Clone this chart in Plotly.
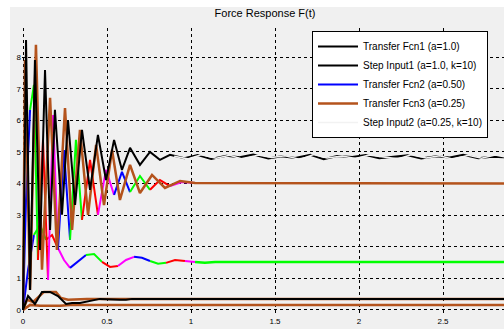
import plotly.graph_objects as go

# ---------------- data ----------------
x_ticks = [0, 0.5, 1, 1.5, 2, 2.5]
x_tick_labels = ["0", "0.5", "1", "1.5", "2", "2.5"]
y_ticks = [0, 1, 2, 3, 4, 5, 6, 7, 8]
y_tick_labels = ["0", "1", "2", "3", "4", "5", "6", "7", "8"]

legend_names = [
    "Transfer Fcn1 (a=1.0)",
    "Step Input1 (a=1.0, k=10)",
    "Transfer Fcn2 (a=0.50)",
    "Transfer Fcn3 (a=0.25)",
    "Step Input2 (a=0.25, k=10)",
]

# black series, settles near 4.84 with jitter
t_black = [0, 0.018, 0.042, 0.071, 0.101, 0.131, 0.161, 0.190, 0.232, 0.268, 0.310,
           0.351, 0.399, 0.446, 0.494, 0.542, 0.589, 0.637, 0.696, 0.756, 0.815, 0.875,
           0.96, 1.04, 1.12, 1.21, 1.29, 1.37, 1.46, 1.54, 1.62, 1.71, 1.79, 1.87, 1.96,
           2.04, 2.12, 2.21, 2.29, 2.37, 2.46, 2.54, 2.62, 2.71, 2.79, 2.87]
f_black = [0, 8.54, 0.63, 7.91, 1.90, 7.59, 2.53, 6.33, 3.01, 6.01, 3.32,
           5.70, 3.80, 5.54, 4.11, 5.38, 4.43, 5.13, 4.59, 5.00, 4.75, 4.91,
           4.80, 4.90, 4.78, 4.88, 4.83, 4.92, 4.79, 4.86, 4.81, 4.91, 4.77, 4.87, 4.84,
           4.90, 4.80, 4.85, 4.89, 4.79, 4.86, 4.82, 4.91, 4.80, 4.85, 4.83]

# black low series
t_low = [0, 0.030, 0.071, 0.113, 0.161, 0.208, 0.256, 0.292, 0.339, 0.387, 0.458,
         0.577, 0.613, 0.649, 2.863]
f_low = [0, 0.44, 0.19, 0.57, 0.57, 0.44, 0.19, 0.22, 0.22, 0.28, 0.35,
         0.32, 0.32, 0.35, 0.35]

# multicolour series settling at 4.0
t_wave4 = [0, 0.018, 0.042, 0.065, 0.089, 0.119, 0.149, 0.179, 0.208, 0.244, 0.280,
           0.315, 0.351, 0.399, 0.446, 0.494, 0.542, 0.589, 0.637, 0.696, 0.756,
           0.815, 0.875, 0.946, 1.024]
f_wave4 = [0, 3.48, 6.33, 7.12, 1.58, 5.38, 0.95, 6.17, 1.90, 5.06, 2.22,
           5.38, 2.85, 4.75, 3.01, 4.43, 3.64, 4.37, 3.73, 4.24, 3.80,
           4.11, 3.92, 4.05, 4.02]

# multicolour series settling at 1.52 (green at the end)
t_wave1 = [0, 0.030, 0.065, 0.101, 0.137, 0.173, 0.208, 0.244, 0.280, 0.327, 0.375,
           0.423, 0.470, 0.518, 0.565, 0.613, 0.661, 0.708, 0.756, 0.804, 0.851,
           0.905, 0.964, 1.024, 1.083, 1.143, 2.863]
f_wave1 = [0, 1.27, 2.37, 2.69, 2.22, 2.37, 1.96, 1.58, 1.33, 1.52, 1.74,
           1.77, 1.52, 1.36, 1.39, 1.58, 1.68, 1.65, 1.55, 1.46, 1.49,
           1.58, 1.55, 1.52, 1.49, 1.52, 1.52]
wave1_steady_from = 1.024

# brown series settling at 4.0
t_brown = [0, 0.012, 0.042, 0.077, 0.113, 0.161, 0.202, 0.250, 0.292, 0.339, 0.387,
           0.435, 0.482, 0.530, 0.577, 0.637, 0.696, 0.768, 0.845, 0.935, 1.024, 2.863]
f_brown = [0, 7.91, 0.63, 8.39, 1.27, 6.71, 1.90, 6.39, 2.53, 5.70, 3.01,
           5.22, 3.32, 5.06, 3.48, 4.59, 3.70, 4.27, 3.86, 4.08, 4.02, 4.0]

# brown low pair
t_brown_hi = [0, 0.024, 0.060, 0.101, 0.125, 0.196, 0.226, 0.268, 0.381, 2.863]
f_brown_hi = [0, 0.32, 0.25, 0.44, 0.57, 0.57, 0.38, 0.32, 0.35, 0.35]
t_brown_lo = [0, 0.042, 0.101, 0.220, 0.280, 0.369, 2.863]
f_brown_lo = [0, 0.16, 0.13, 0.13, 0.16, 0.16, 0.16]

# light series (runs over the black one)
t_light = [0.90, 0.98, 1.06, 1.15, 1.23, 1.31, 1.40, 1.48, 1.56, 1.65, 1.73, 1.81,
           1.90, 1.98, 2.06, 2.15, 2.23, 2.31, 2.40, 2.48, 2.56, 2.65, 2.73, 2.81, 2.87]
f_light = [4.86, 4.78, 4.91, 4.80, 4.89, 4.77, 4.90, 4.82, 4.88, 4.76, 4.92, 4.81,
           4.87, 4.79, 4.90, 4.83, 4.78, 4.91, 4.81, 4.88, 4.77, 4.89, 4.80, 4.90, 4.84]

# ---------------- styles ----------------
BLACK = "#000000"
BROWN = "#b4531c"
SEG_COLORS = ["#0000ff", "#00ff00", "#ff0000", "#ff00ff"]
LIGHT = "#f2f2f2"
FONT = "Liberation Sans"

fig = go.Figure()


def add_segmented(t, f, group, showlegend, name, rank, width=2):
    first = True
    k = 0
    i = 0
    while i < len(t) - 1:
        j = min(i + 2, len(t) - 1)
        fig.add_trace(go.Scatter(
            x=t[i:j + 1], y=f[i:j + 1], mode="lines",
            line=dict(color=SEG_COLORS[k % len(SEG_COLORS)], width=width),
            legendgroup=group, name=name, legendrank=rank,
            showlegend=(showlegend and first), hoverinfo="skip"))
        first = False
        k += 1
        i = j


# multicoloured (legend 3)
split = t_wave1.index(wave1_steady_from)
add_segmented(t_wave1[:split + 1], f_wave1[:split + 1], "g3", True, legend_names[2], 3)
fig.add_trace(go.Scatter(x=t_wave1[split:], y=f_wave1[split:], mode="lines",
                         line=dict(color="#00ff00", width=2.5), legendgroup="g3",
                         showlegend=False, hoverinfo="skip"))
add_segmented(t_wave4, f_wave4, "g3", False, legend_names[2], 3)

# brown (legend 4)
fig.add_trace(go.Scatter(x=t_brown, y=f_brown, mode="lines", name=legend_names[3],
                         line=dict(color=BROWN, width=2.5), legendgroup="g4", legendrank=4))
fig.add_trace(go.Scatter(x=t_brown_hi, y=f_brown_hi, mode="lines", showlegend=False,
                         line=dict(color=BROWN, width=2.5), legendgroup="g4"))
fig.add_trace(go.Scatter(x=t_brown_lo, y=f_brown_lo, mode="lines", showlegend=False,
                         line=dict(color=BROWN, width=2.5), legendgroup="g4"))

# black low (legend 2)
fig.add_trace(go.Scatter(x=t_low, y=f_low, mode="lines", name=legend_names[1],
                         line=dict(color=BLACK, width=2), legendrank=2))

# black (legend 1)
fig.add_trace(go.Scatter(x=t_black, y=f_black, mode="lines", name=legend_names[0],
                         line=dict(color=BLACK, width=2), legendrank=1))

# light (legend 5)
fig.add_trace(go.Scatter(x=t_light, y=f_light, mode="lines", name=legend_names[4],
                         line=dict(color=LIGHT, width=1.5), legendrank=5))

W, H = 504, 329
ml, mr, mt, mb = 22, 0, 28, 14
pw, ph = W - ml - mr, H - mt - mb

fig.update_layout(
    width=W, height=H,
    margin=dict(l=ml, r=mr, t=mt, b=mb, autoexpand=False),
    paper_bgcolor="#ffffff",
    plot_bgcolor="#ffffff",
    font=dict(family=FONT, size=9, color="#000000"),
    title=dict(text="Force Response F(t)", x=265 / W, xref="container", xanchor="center",
               y=1 - 13 / H, yref="container", yanchor="middle",
               font=dict(size=11, family=FONT, color="#000000")),
    showlegend=True,
    legend=dict(x=(312 - ml) / pw, y=1 - (31 - mt) / ph, xanchor="left", yanchor="top",
                bgcolor="#ffffff", bordercolor="#000000", borderwidth=1,
                font=dict(size=10, family=FONT, color="#000000"),
                itemwidth=40, tracegroupgap=0),
    shapes=[dict(type="rect", xref="paper", yref="paper",
                 x0=(10 - ml) / pw, x1=1.02, y0=-(mb + 2) / ph, y1=1 + (mt - 7) / ph,
                 fillcolor="#f0f0f0", line=dict(width=0), layer="below")],
)

fig.update_xaxes(range=[-0.006, 2.863], tickvals=x_ticks, ticktext=x_tick_labels,
                 showgrid=True, gridcolor="#000000", griddash="dot", gridwidth=1,
                 zeroline=False, showline=False, ticks="",
                 tickfont=dict(size=8, family=FONT, color="#000000"))
fig.update_yaxes(range=[-0.16, 8.92], tickvals=y_ticks, ticktext=y_tick_labels,
                 showgrid=True, gridcolor="#000000", griddash="dot", gridwidth=1,
                 zeroline=False, showline=False, ticks="",
                 tickfont=dict(size=8, family=FONT, color="#000000"))

fig.write_html("out.html")
